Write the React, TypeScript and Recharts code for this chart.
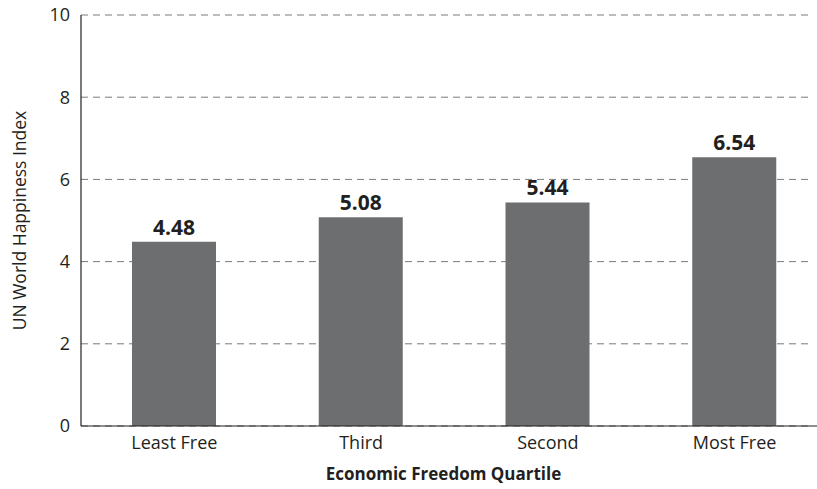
import React from "react";
import {
  Bar,
  BarChart,
  CartesianGrid,
  Label,
  LabelList,
  XAxis,
  YAxis,
} from "recharts";

const quartiles = ["Least Free", "Third", "Second", "Most Free"];
const happiness = [4.48, 5.08, 5.44, 6.54];
const yTicks = [0, 2, 4, 6, 8, 10];

const data = quartiles.map((q, i) => ({ quartile: q, value: happiness[i] }));

const FONT = "'Open Sans', sans-serif";
const TEXT = "#231f20";

// grid lines stop a bit short of the right edge, like the original
function GridLine(props: any) {
  const { x1, x2, y1, y2 } = props;
  return (
    <line
      x1={x1}
      x2={x2 - 18}
      y1={y1}
      y2={y2}
      stroke="#7a7a7a"
      strokeWidth={1}
      strokeDasharray="7 5"
    />
  );
}

export default function App() {
  return (
    <div
      style={{
        position: "absolute",
        top: 0,
        left: 0,
        width: 817,
        height: 489,
        overflow: "hidden",
        background: "#fff",
        fontFamily: FONT,
      }}
    >
      <BarChart
        width={830}
        height={489}
        data={data}
        margin={{ top: 15, right: 2, bottom: 0, left: 0 }}
      >
        <CartesianGrid vertical={false} horizontal={(p: any) => <GridLine key={p.key} {...p} />} />
        <XAxis
          dataKey="quartile"
          height={63}
          tickLine={false}
          tickSize={0}
          tickMargin={10}
          axisLine={{ stroke: TEXT, strokeWidth: 1.2 }}
          tick={{ fontSize: 18, fill: TEXT, fontFamily: FONT }}
        >
          <Label
            value="Economic Freedom Quartile"
            position="insideBottom"
            offset={9}
            dx={-11}
            style={{ fontSize: 17, fontWeight: 700, fill: TEXT, fontFamily: FONT }}
          />
        </XAxis>
        <YAxis
          width={81}
          domain={[0, 10]}
          ticks={yTicks}
          tickLine={false}
          tickSize={0}
          tickMargin={11}
          axisLine={{ stroke: TEXT, strokeWidth: 1.2 }}
          tick={{ fontSize: 18, fill: TEXT, fontFamily: FONT }}
        >
          <Label
            value="UN World Happiness Index"
            angle={-90}
            position="insideLeft"
            offset={20}
            style={{ textAnchor: "middle", fontSize: 17.5, fill: TEXT, fontFamily: FONT }}
          />
        </YAxis>
        <Bar dataKey="value" fill="#6d6e70" barSize={84} isAnimationActive={false}>
          <LabelList
            dataKey="value"
            position="top"
            offset={7}
            formatter={(v: any) => Number(v).toFixed(2)}
            style={{ fontSize: 21, fontWeight: 700, fill: TEXT, fontFamily: FONT }}
          />
        </Bar>
      </BarChart>
    </div>
  );
}
